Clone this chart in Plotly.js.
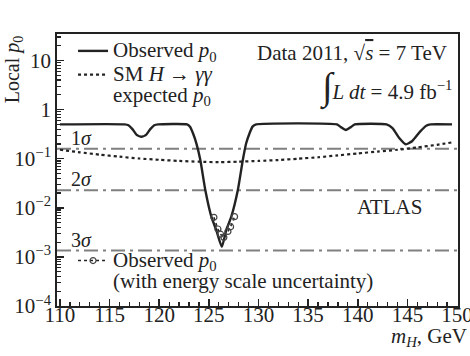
<!DOCTYPE html>
<html>
<head>
<meta charset="utf-8">
<script src="https://cdn.plot.ly/plotly-3.0.1.min.js"></script>
<style>html,body{margin:0;padding:0;background:#fff;}#chart{width:470px;height:356px;}</style>
</head>
<body>
<div id="chart"></div>
<script>
// ---- data ----
const massObs = [110, 116.5, 116.9, 117.3, 117.7, 118.2, 118.7, 119.1, 119.5, 119.9,
  122.8, 123.1, 123.4, 123.74, 124.14, 124.64, 125.25, 125.75, 126.31, 126.75, 127.26,
  127.92, 128.42, 128.76, 129.1, 129.4, 129.77, 137.9, 138.3, 138.8, 139.3, 139.7,
  142.9, 143.5, 144.2, 144.85, 145.5, 146.3, 146.9, 147.35, 149.5];
const pObs = [0.5, 0.5, 0.48, 0.40, 0.31, 0.28, 0.31, 0.40, 0.48, 0.5,
  0.5, 0.45, 0.33, 0.206, 0.094, 0.0231, 0.0066, 0.0035, 0.0016, 0.0035, 0.0066,
  0.0231, 0.094, 0.206, 0.33, 0.45, 0.5, 0.5, 0.44, 0.385, 0.44, 0.5,
  0.5, 0.42, 0.26, 0.196, 0.23, 0.36, 0.47, 0.5, 0.5];

const massExp = [110, 112, 114, 116, 118, 120, 122, 124, 126, 128, 130, 132, 134, 136, 138, 140, 142, 144, 146, 148, 149.5];
const pExp = [0.152, 0.135, 0.121, 0.110, 0.101, 0.095, 0.090, 0.087, 0.085, 0.087, 0.090, 0.094, 0.100, 0.107, 0.117, 0.128, 0.140, 0.152, 0.170, 0.192, 0.215];

const massEsc = [125.51, 125.91, 126.18, 126.51, 126.92, 127.19, 127.59];
const pEsc = [0.0064, 0.0037, 0.0029, 0.0025, 0.0033, 0.0041, 0.0066];

const sigmaLabels = ['1<i>σ</i>', '2<i>σ</i>', '3<i>σ</i>'];
const sigmaP = [0.1587, 0.02275, 0.00135];

const xRange = [109.7, 150.1];
const xTickVals = [110, 115, 120, 125, 130, 135, 140, 145, 150];
const yTickVals = [1e-4, 1e-3, 1e-2, 1e-1, 1, 10];
const yTickText = ['10<sup>−4</sup>', '10<sup>−3</sup>', '10<sup>−2</sup>', '10<sup>−1</sup>', '1', '10'];
const yMinorVals = [];
for (let e = -4; e <= 1; e++) for (let m = 2; m <= 9; m++) yMinorVals.push(m * Math.pow(10, e));

// ---- style ----
const FONT = '"Liberation Serif", "Times New Roman", serif';
const INK = '#222';
const FS = 21;
const big = s => s.split('<br>').map(l => '<span style="font-size:' + FS + 'px">' + l + '</span>').join('<br>');

const traces = [];
sigmaP.forEach(p => traces.push({
  x: xRange, y: [p, p], mode: 'lines', showlegend: false, hoverinfo: 'skip',
  line: {color: '#808080', width: 2, dash: '14px,5px,3px,5px'}
}));
traces.push({
  x: massExp, y: pExp, mode: 'lines', name: big('SM <i>H</i> → <i>γγ</i><br>expected <i>p</i><sub>0</sub>'),
  line: {color: INK, width: 2.2, dash: 'dot', shape: 'spline', smoothing: 0.6}, legendrank: 2
});
traces.push({
  x: massObs, y: pObs, mode: 'lines', name: big('Observed <i>p</i><sub>0</sub>'),
  line: {color: INK, width: 2.4, shape: 'spline', smoothing: 0.5}, legendrank: 1
});
traces.push({
  x: massEsc, y: pEsc, mode: 'lines+markers', legend: 'legend2',
  name: big('Observed <i>p</i><sub>0</sub><br>(with energy scale uncertainty)'),
  line: {color: INK, width: 1.5, dash: 'dot'},
  marker: {symbol: 'circle-open', size: 6, color: '#444', line: {width: 1.2}}
});

const annotations = sigmaP.map((p, i) => ({
  x: 110.9, y: Math.log10(p), xref: 'x', yref: 'y', text: sigmaLabels[i],
  showarrow: false, xanchor: 'left', yanchor: 'bottom', yshift: -2,
  font: {family: FONT, size: 20, color: INK}
}));
annotations.push(
  {xref: 'paper', yref: 'paper', x: 0.978, y: 0.93, xanchor: 'right', yanchor: 'middle', showarrow: false,
   text: 'Data 2011, √<span style="text-decoration:overline"><i>s</i></span> = 7 TeV', font: {family: FONT, size: FS, color: INK}},
  {xref: 'paper', yref: 'paper', x: 0.99, y: 0.805, xanchor: 'right', yanchor: 'middle', showarrow: false,
   text: '<span style="font-size:38px">∫</span><i>L dt</i> = 4.9 fb<sup>−1</sup>', font: {family: FONT, size: FS, color: INK}},
  {xref: 'paper', yref: 'paper', x: 0.915, y: 0.365, xanchor: 'right', yanchor: 'middle', showarrow: false,
   text: 'ATLAS', font: {family: FONT, size: FS, color: INK}},
  {xref: 'paper', yref: 'paper', x: -0.11, y: 0.87, xanchor: 'center', yanchor: 'middle', showarrow: false,
   textangle: -90, text: 'Local <i>p</i><sub>0</sub>', font: {family: FONT, size: 20, color: INK}},
  {xref: 'paper', yref: 'paper', x: 1.027, y: -0.114, xanchor: 'right', yanchor: 'middle', showarrow: false,
   text: '<i>m</i><sub><i>H</i></sub>, GeV', font: {family: FONT, size: FS, color: INK}}
);

const layout = {
  width: 470, height: 356,
  margin: {l: 57, r: 12, t: 34, b: 50},
  paper_bgcolor: '#fff', plot_bgcolor: '#fff',
  font: {family: FONT, size: FS, color: INK},
  showlegend: true,
  legend: {x: 0.04, y: 1.0, xanchor: 'left', yanchor: 'top', bgcolor: 'rgba(0,0,0,0)',
           font: {family: FONT, size: 16, color: INK}, valign: 'top', tracegroupgap: 0, traceorder: 'normal'},
  legend2: {x: 0.04, y: 0.027, xanchor: 'left', yanchor: 'bottom', bgcolor: 'rgba(0,0,0,0)',
           font: {family: FONT, size: 16, color: INK}, valign: 'top'},
  xaxis: {
    range: xRange, tickvals: xTickVals, ticks: 'inside', ticklen: 7, tickwidth: 1.5, tickcolor: INK,
    showline: true, linecolor: INK, linewidth: 1.8, mirror: true, showgrid: false, zeroline: false,
    tickfont: {family: FONT, size: FS, color: INK}, ticklabelstandoff: -11, ticklabeloverflow: 'allow',
    minor: {dtick: 1, ticks: 'inside', ticklen: 4, tickwidth: 1.2, tickcolor: INK, showgrid: false}
  },
  yaxis: {
    type: 'log', range: [-4, 1.54], tickvals: yTickVals, ticktext: yTickText,
    ticks: 'inside', ticklen: 7, tickwidth: 1.5, tickcolor: INK,
    showline: true, linecolor: INK, linewidth: 1.8, mirror: true, showgrid: false, zeroline: false,
    tickfont: {family: FONT, size: FS, color: INK},
    minor: {tickvals: yMinorVals, ticks: 'inside', ticklen: 4, tickwidth: 1.2, tickcolor: INK, showgrid: false}
  },
  annotations: annotations
};

Plotly.newPlot('chart', traces, layout, {displayModeBar: false, staticPlot: true});
</script>
</body>
</html>
